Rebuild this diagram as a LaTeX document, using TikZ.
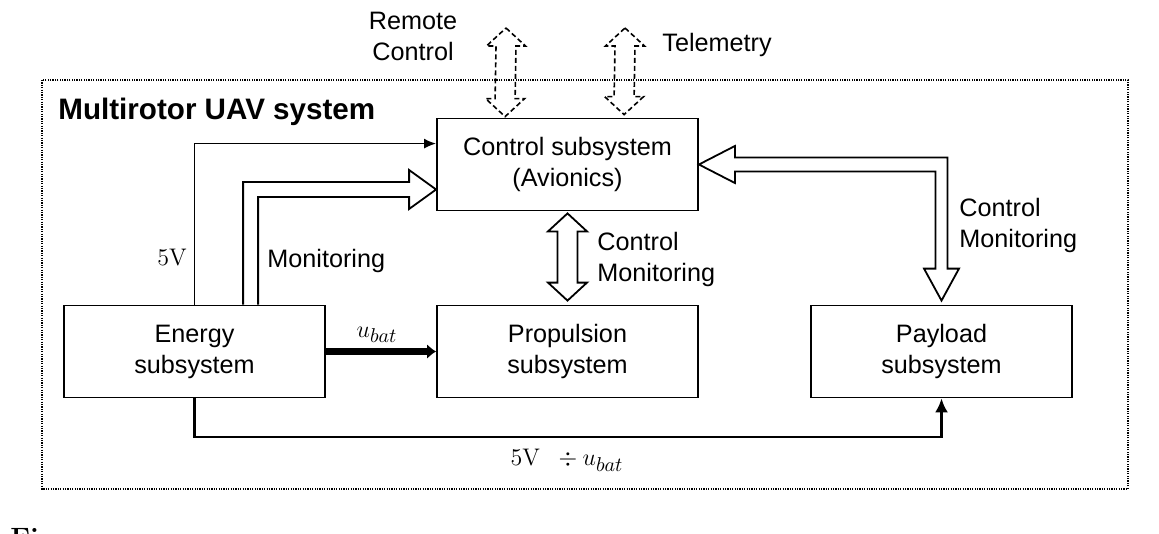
\documentclass[tikz,border=0pt]{standalone}
\usepackage{fontspec}
\newfontfamily\arial{Liberation Sans}
\usetikzlibrary{arrows.meta,calc}
\DeclareMathSizes{12}{12}{10}{8}
\newcommand\dblvarrow[3]{%
  \draw[#1] (#2) -- ++(19.5,18) -- ++(-9.5,0) -- ($(#3)+(10,-18)$) -- ++(9.5,0) -- (#3)
    -- ++(-19.5,-18) -- ++(9.5,0) -- ($(#2)+(-10,18)$) -- ++(-9.5,0) -- cycle;}
\begin{document}
\begin{tikzpicture}[x=0.5pt,y=-0.5pt,
  box/.style={draw, line width=0.9pt, minimum width=130.5pt, minimum height=46pt,
    inner sep=0pt, align=center, font=\arial\fontsize{12.6}{15.5}\selectfont},
  lbl/.style={inner sep=0pt, align=left, font=\arial\fontsize{12.6}{15.5}\selectfont},
  mlbl/.style={inner sep=0pt, font=\fontsize{12}{14}\selectfont},
  hollow/.style={draw, line width=0.9pt, fill=white, line join=miter},
  dhollow/.style={draw, line width=0.8pt, dash pattern=on 2.5pt off 1.5pt, line join=miter},
  conn/.style={draw, line width=0.8pt},
  frame/.style={draw, line width=0.8pt, dash pattern=on 0.6pt off 0.6pt},
]
\useasboundingbox (0,0) rectangle (1159,534);
\fill[white] (0,0) rectangle (1159,534);

% outer system frame
\draw[frame] (42,80) rectangle (1128,489);
\node[anchor=west, inner sep=0pt, font=\arial\bfseries\fontsize{14.8}{17}\selectfont] (title) at (58,112) {Multirotor UAV system};

% blocks
\node[box] (ctrl) at (567.5,164.5) {Control subsystem\\(Avionics)};
\node[box] (prop) at (567.5,351.5) {Propulsion\\subsystem};
\node[box] (energy) at (194.5,351.5) {Energy\\subsystem};
\node[box] (pay) at (941.5,351.5) {Payload\\subsystem};

% external links (dashed double arrows)
\coordinate (rcT) at (506,28);
\coordinate (rcB) at ($(ctrl.north west)+(69,-1)$);
\coordinate (tmT) at (625,28);
\coordinate (tmB) at ($(ctrl.north west)+(188,-3)$);
\dblvarrow{dhollow}{rcT}{rcB}
\dblvarrow{dhollow}{tmT}{tmB}
\node[lbl, align=center] (lrc) at (413,36.5) {Remote\\Control};
\node[lbl, anchor=west] (ltel) at (662,45) {Telemetry};

% 5V supply to control
\draw[conn, -{Latex[length=6pt,width=5pt]}] (energy.north) |- ($(ctrl.north west)+(0,26)$);
\node[mlbl] (l5v) at (172,258) {$5\mathrm{V}$};

% monitoring hollow arrow energy -> control
\coordinate (mT) at ($(ctrl.west)+(0,25)$);
\draw[hollow] ($(energy.north west)+(180,0)$) |- ($(mT)+(-27,-7.5)$) -- ++(0,-12) -- (mT)
  -- ++(-27,19.5) -- ++(0,-12) -| ($(energy.north west)+(195,0)$);
\node[lbl, anchor=west] (lmon) at (267,261) {Monitoring};

% control <-> propulsion
\coordinate (vT1) at ($(ctrl.south)+(0,2)$);
\coordinate (vT2) at ($(prop.north)+(0,-4)$);
\dblvarrow{hollow}{vT1}{vT2}
\node[lbl, anchor=west] (lcm1) at (597,259) {Control\\Monitoring};

% control <-> payload (L-shaped hollow arrow)
\coordinate (rT1) at (ctrl.east);
\coordinate (rT2) at ($(pay.north)+(0,-4)$);
\draw[hollow] (rT1) -- ++(36,-18.5) -- ++(0,11.5) -| ($(rT2)+(6,-32)$) -- ++(11.5,0) -- (rT2)
  -- ++(-17.5,-32) -- ++(11.5,0) |- ($(rT1)+(36,7)$) -- ++(0,11.5) -- cycle;
\node[lbl, anchor=west] (lcm2) at (959,225.5) {Control\\Monitoring};

% battery voltage to propulsion
\draw[line width=3.2pt, -{Latex[length=4.5pt,width=7.5pt]}] (energy.east) -- (prop.west);
\node[mlbl] (lub) at (377,335) {$u_{bat}$};

% supply to payload
\draw[line width=1.3pt, -{Latex[length=7pt,width=6.5pt]}] (energy.south) |- ($(pay.south)+(0,38.5)$) -- (pay.south);
\node[mlbl] (lbot) at (567,460) {$5\mathrm{V}\;\;\div u_{bat}$};

% cut-off caption
\begin{scope}
\clip (0,0) rectangle (1159,534);
\node[anchor=north west, inner sep=0pt, font=\bfseries\fontsize{14}{16}\selectfont] (fig) at (10,528) {Fi};
\end{scope}
\end{tikzpicture}
\end{document}
